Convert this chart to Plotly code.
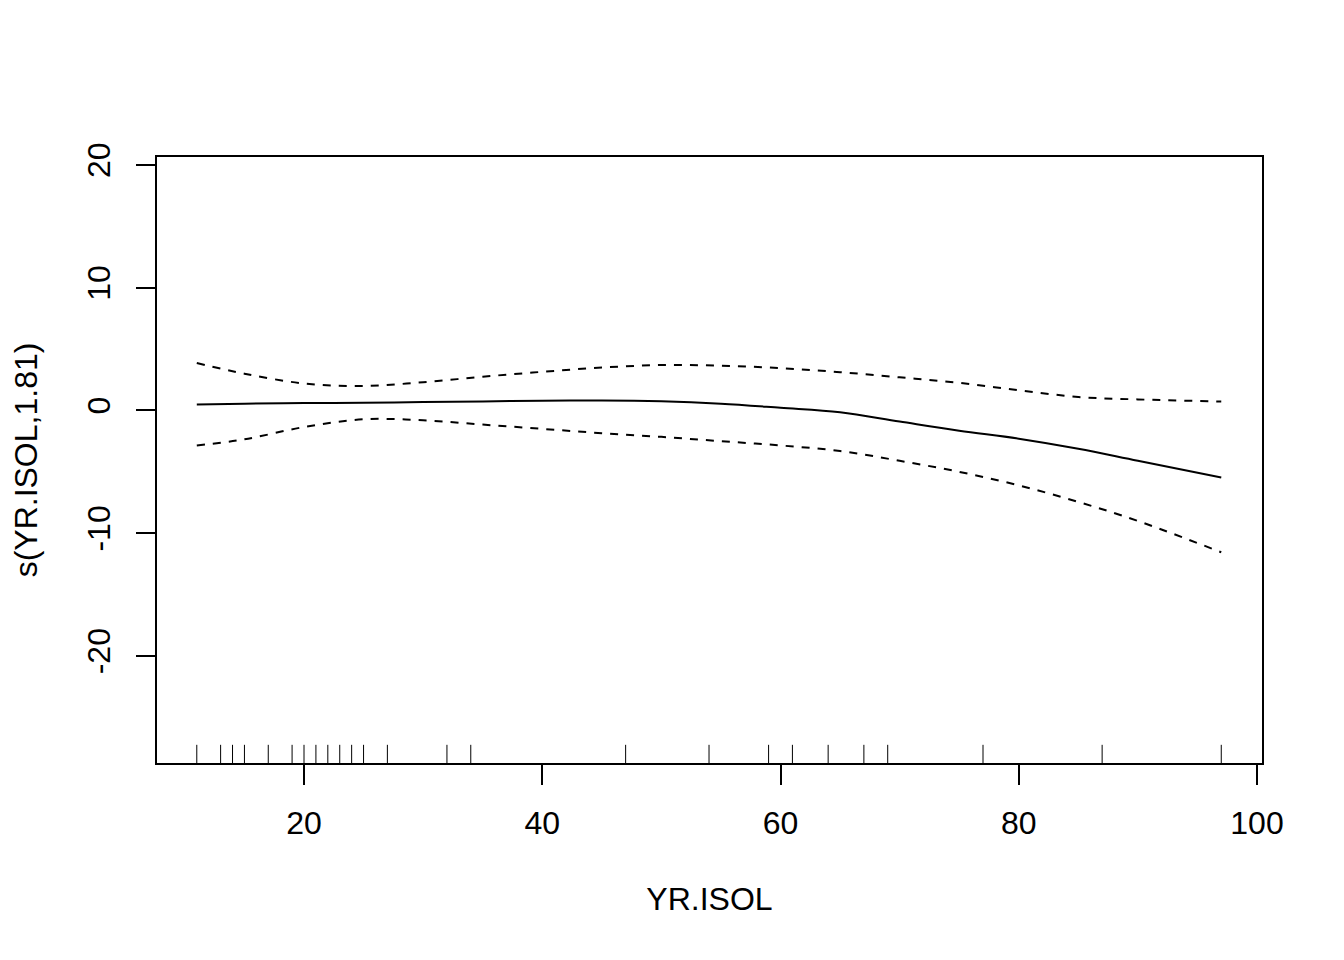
import plotly.graph_objects as go

# Data
x_grid = [11, 15, 20, 25, 30, 35, 40, 45, 50, 55, 60, 65, 70, 75, 80, 85, 90, 97]
fit = [0.49, 0.55, 0.6, 0.63, 0.68, 0.74, 0.8, 0.82, 0.75, 0.55, 0.22, -0.14, -0.9, -1.65, -2.3, -3.12, -4.1, -5.46]
upper = [3.86, 3.0, 2.2, 2.0, 2.3, 2.75, 3.15, 3.5, 3.7, 3.65, 3.45, 3.12, 2.7, 2.25, 1.65, 1.1, 0.9, 0.73]
lower = [-2.85, -2.35, -1.35, -0.72, -0.8, -1.15, -1.5, -1.85, -2.15, -2.5, -2.85, -3.3, -4.1, -5.0, -6.1, -7.45, -9.0, -11.55]
rug = [11, 13, 14, 15, 17, 19, 20, 21, 22, 23, 24, 25, 27, 32, 34, 47, 54, 59, 61, 64, 67, 69, 77, 87, 97]
x_ticks = [20, 40, 60, 80, 100]
y_ticks = [-20, -10, 0, 10, 20]

XMIN, XMAX = 7.66, 100.42
YMIN, YMAX = -28.72, 20.65

FONT = "Liberation Sans, Arial, sans-serif"

fig = go.Figure()
fig.add_trace(go.Scatter(x=x_grid, y=fit, mode="lines", line=dict(color="black", width=2),
                         line_shape="spline", showlegend=False, hoverinfo="skip"))
fig.add_trace(go.Scatter(x=x_grid, y=upper, mode="lines", line=dict(color="black", width=2, dash="8px,8px"),
                         line_shape="spline", showlegend=False, hoverinfo="skip"))
fig.add_trace(go.Scatter(x=x_grid, y=lower, mode="lines", line=dict(color="black", width=2, dash="8px,8px"),
                         line_shape="spline", showlegend=False, hoverinfo="skip"))

# rug
rug_top = YMIN + 0.03 * (YMAX - YMIN)
rx, ry = [], []
for v in rug:
    rx += [v, v, None]
    ry += [YMIN, rug_top, None]
fig.add_trace(go.Scatter(x=rx, y=ry, mode="lines", line=dict(color="black", width=1),
                         showlegend=False, hoverinfo="skip"))

fig.update_layout(
    width=1344, height=960,
    margin=dict(l=149, r=90, t=149, b=205),
    paper_bgcolor="white", plot_bgcolor="white",
    font=dict(family=FONT, size=32, color="black"),
    xaxis=dict(range=[XMIN, XMAX], tickvals=x_ticks, ticktext=[str(v) for v in x_ticks],
               showgrid=False, zeroline=False, showline=True, linecolor="black", linewidth=2,
               mirror=True, ticks="outside", ticklen=20, tickwidth=2, tickcolor="black",
               ticklabelstandoff=11,
               title=dict(text="YR.ISOL", standoff=47, font=dict(size=32))),
    yaxis=dict(range=[YMIN, YMAX], tickvals=y_ticks, ticktext=[str(v) for v in y_ticks],
               showgrid=False, zeroline=False, showline=True, linecolor="black", linewidth=2,
               mirror=True, ticks="outside", ticklen=19, tickwidth=2, tickcolor="black",
               tickangle=-90, ticklabelstandoff=13,
               title=dict(text="s(YR.ISOL,1.81)", standoff=37, font=dict(size=32))),
)

fig.write_html("out.html")
